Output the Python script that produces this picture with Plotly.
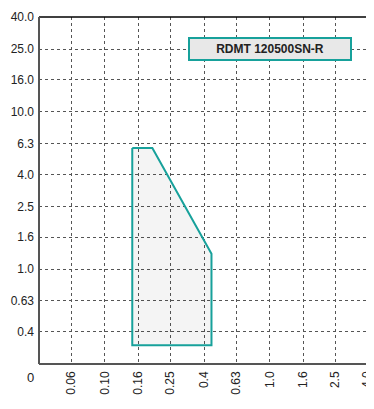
import math
import plotly.graph_objects as go

# Data (feed fz vs depth ap)
fz = [0.147, 0.1945, 0.444, 0.444, 0.147, 0.147]
ap = [5.88, 5.88, 1.254, 0.329, 0.329, 5.88]
series_name = "RDMT 120500SN-R"

x_tickvals = [0.063, 0.1, 0.16, 0.25, 0.4, 0.63, 1.0, 1.6, 2.5, 3.9]
x_ticktext = ["0.06", "0.10", "0.16", "0.25", "0.4", "0.63", "1.0", "1.6", "2.5", "4.0"]
y_tickvals = [0.4, 0.63, 1.0, 1.6, 2.5, 4.0, 6.3, 10.0, 16.0, 25.0, 39.9]
y_ticktext = ["0.4", "0.63", "1.0", "1.6", "2.5", "4.0", "6.3", "10.0", "16.0", "25.0", "40.0"]
x_range = [0.04, 4.0]
y_range = [0.25, 40.0]

teal = "#17a19b"
font_family = "Liberation Sans, Arial, sans-serif"

fig = go.Figure()
fig.add_trace(go.Scatter(
    x=fz, y=ap, mode="lines", fill="toself",
    fillcolor="rgba(0,0,0,0.045)",
    line=dict(color=teal, width=2),
    hoverinfo="skip", showlegend=False,
))

# the page body has an 8px margin, so the figure is sized to fit in 374x409
fig.update_layout(
    width=366, height=401,
    margin=dict(l=31, r=5, t=9, b=45),
    paper_bgcolor="white", plot_bgcolor="white",
    font=dict(family=font_family, size=12, color="#222"),
    xaxis=dict(
        type="log", range=[math.log10(x_range[0]), math.log10(x_range[1])],
        tickmode="array", tickvals=x_tickvals, ticktext=x_ticktext,
        tickangle=-90, showgrid=True, gridcolor="#555", gridwidth=1, griddash="dot",
        zeroline=False, showline=False, ticks="", ticklabelstandoff=4,
        automargin=False, ticklabeloverflow="allow",
    ),
    yaxis=dict(
        type="log", range=[math.log10(y_range[0]), math.log10(y_range[1])],
        tickmode="array", tickvals=y_tickvals, ticktext=y_ticktext,
        showgrid=True, gridcolor="#555", gridwidth=1, griddash="dot",
        zeroline=False, showline=False, ticks="", ticklabelstandoff=4,
        automargin=False, ticklabeloverflow="allow",
    ),
    shapes=[
        dict(type="line", xref="paper", yref="paper", x0=0, x1=1, y0=1, y1=1,
             line=dict(color="black", width=1.5)),
        dict(type="line", xref="paper", yref="paper", x0=1, x1=1, y0=0, y1=1,
             line=dict(color="#8a8a8a", width=3)),
        dict(type="line", xref="paper", yref="paper", x0=0, x1=0, y0=0, y1=1,
             line=dict(color="#555", width=2)),
        dict(type="line", xref="paper", yref="paper", x0=0, x1=1, y0=0, y1=0,
             line=dict(color="#555", width=2)),
    ],
    annotations=[
        dict(text="<b>" + series_name + "</b>", x=0, y=math.log10(25.0),
             xref="x", yref="y", showarrow=False,
             font=dict(size=12, color="#222", family=font_family),
             bgcolor="#e8e8e8", bordercolor=teal, borderwidth=2,
             width=158, height=18, align="center"),
        dict(text="0", xref="paper", yref="paper", x=-0.027, y=-0.04,
             xanchor="center", yanchor="middle", showarrow=False,
             font=dict(size=13, color="#222", family=font_family)),
    ],
)

fig.write_html("out.html")
